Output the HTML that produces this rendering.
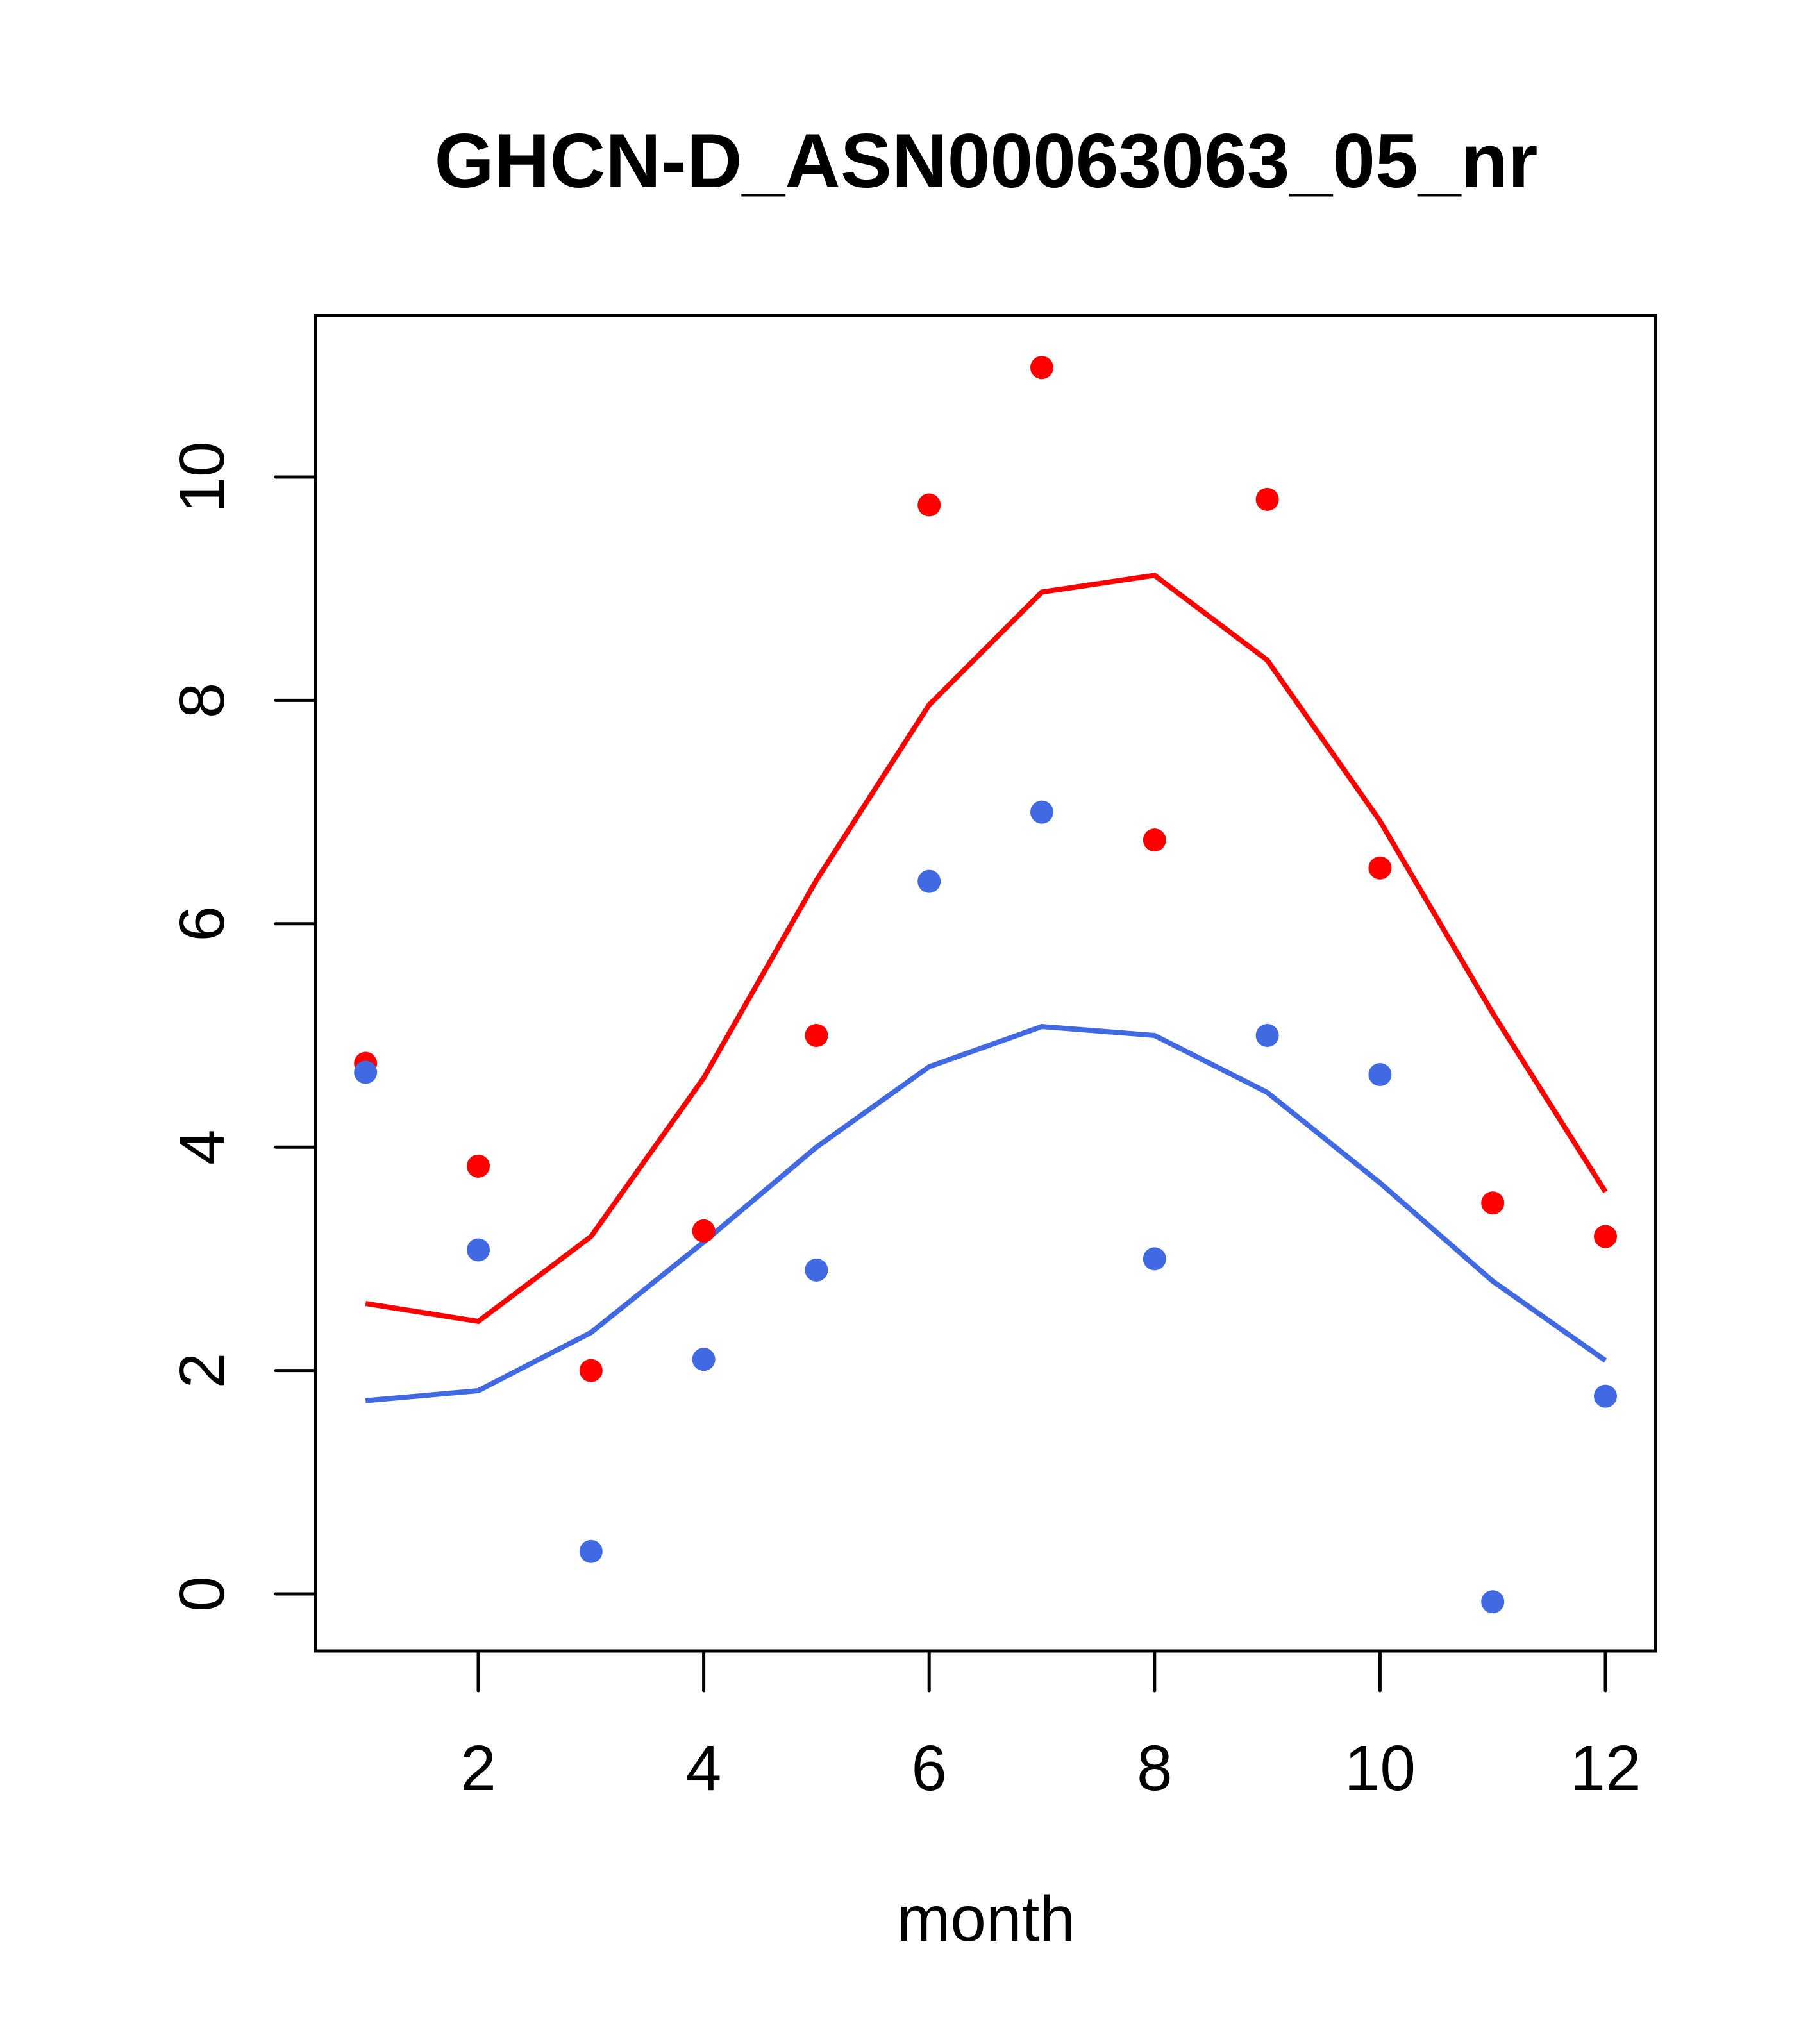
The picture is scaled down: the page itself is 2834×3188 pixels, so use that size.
<!DOCTYPE html>
<html><head><meta charset="utf-8"><style>
html,body{margin:0;padding:0;background:#fff}
svg{display:block}
text{font-family:"Liberation Sans",Arial,sans-serif;fill:#000}
</style></head><body>
<svg id="chart" width="2834" height="3188" viewBox="0 0 2834 3188">
<text x="1538" y="292" font-size="120" font-weight="bold" text-anchor="middle">GHCN-D_ASN00063063_05_nr</text>
<rect x="492" y="492" width="2090" height="2083" fill="none" stroke="#000" stroke-width="5"/>
<text x="1538" y="3027" font-size="100" text-anchor="middle">month</text>
<g id="xaxis"></g>
<g id="yaxis"></g>
<g id="series"></g>
</svg>
<script>
const months=[1,2,3,4,5,6,7,8,9,10,11,12];
const redPoints=[4.75,3.83,2.0,3.25,5.0,9.75,10.98,6.75,9.8,6.5,3.5,3.2];
const bluePoints=[4.67,3.08,0.38,2.1,2.9,6.38,7.0,3.0,5.0,4.65,-0.07,1.77];
const redLine=[2.6,2.44,3.2,4.62,6.39,7.96,8.97,9.12,8.36,6.92,5.2,3.6];
const blueLine=[1.73,1.82,2.34,3.15,4.0,4.72,5.08,5.0,4.49,3.68,2.8,2.09];
const xTicks=[2,4,6,8,10,12];
const yTicks=[0,2,4,6,8,10];
const NS="http://www.w3.org/2000/svg";
function X(m){return 746+(m-2)*175.8;}
function Y(v){return 2486-v*174.2;}
function mk(tag,attrs,parent){const e=document.createElementNS(NS,tag);for(const k in attrs)e.setAttribute(k,attrs[k]);parent.appendChild(e);return e;}
const xa=document.getElementById('xaxis'),ya=document.getElementById('yaxis'),sg=document.getElementById('series');
xTicks.forEach(t=>{
 const l=mk('line',{x1:X(t),x2:X(t),y1:2575,y2:2637,stroke:'#000','stroke-width':5,'stroke-linecap':'round'},xa);
 
 
 const tx=mk('text',{x:X(t),y:2792,'font-size':100,'text-anchor':'middle'},xa);
 tx.textContent=t;
 
 
});
yTicks.forEach(t=>{
 const l=mk('line',{x1:430,x2:492,y1:Y(t),y2:Y(t),stroke:'#000','stroke-width':5,'stroke-linecap':'round'},ya);
 
 
 const tx=mk('text',{x:349,y:Y(t),'font-size':100,'text-anchor':'middle',transform:`rotate(-90 349 ${Y(t)})`},ya);
 tx.textContent=t;
 
 
});
function line(vals,color,name){
 const p=mk('polyline',{points:vals.map((v,i)=>X(months[i])+','+Y(v)).join(' '),fill:'none',stroke:color,'stroke-width':8},sg);
 
 
}
function pts(vals,color,name){
 vals.forEach((v,i)=>{
  const c=mk('circle',{cx:X(months[i]),cy:Y(v),r:18,fill:color},sg);
  
  
 });
}
line(redLine,'#ff0000','red-line');
line(blueLine,'#4169e1','blue-line');
pts(redPoints,'#ff0000','red-point');
pts(bluePoints,'#4169e1','blue-point');
</script>
</body></html>
